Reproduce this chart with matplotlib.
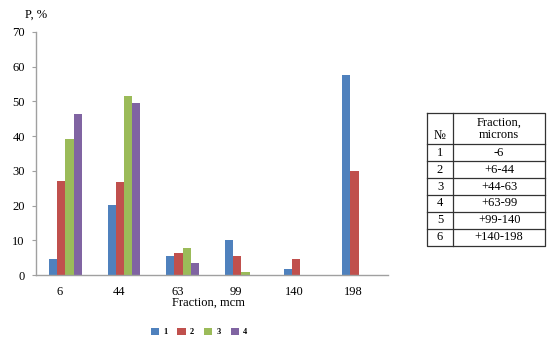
import matplotlib
matplotlib.use("Agg")
import matplotlib.pyplot as plt
import numpy as np

categories = ["6", "44", "63", "99", "140", "198"]
series_names = ["1", "2", "3", "4"]
s1 = [4.6, 20.2, 5.5, 10.1, 1.6, 57.5]
s2 = [27.0, 26.7, 6.2, 5.4, 4.6, 29.9]
s3 = [39.3, 51.7, 7.9, 1.0, 0.0, 0.0]
s4 = [46.5, 49.5, 3.5, 0.0, 0.0, 0.0]
series = [s1, s2, s3, s4]
colors = ["#4F81BD", "#C0504D", "#9BBB59", "#8064A2"]

table_header = ["№", "Fraction,\nmicrons"]
table_nums = ["1", "2", "3", "4", "5", "6"]
table_fracs = ["-6", "+6-44", "+44-63", "+63-99", "+99-140", "+140-198"]

serif = ["Liberation Serif", "DejaVu Serif"]
plt.rcParams["font.family"] = serif

W, H = 550, 345
fig = plt.figure(figsize=(5.5, 3.45), dpi=100)
ax = fig.add_axes([36 / W, 1 - 275 / H, (388 - 36) / W, (275 - 32) / H])

x = np.arange(len(categories))
bw = 0.14
n = len(series)
for i, (vals, c, name) in enumerate(zip(series, colors, series_names)):
    ax.bar(x + (i - (n - 1) / 2) * bw, vals, width=bw, color=c, label=name, linewidth=0)

ax.set_xlim(-0.5, len(categories) - 0.5)
ax.set_ylim(0, 70)
ax.set_yticks(np.arange(0, 71, 10))
ax.set_xticks(x - 0.09)
ax.set_xticklabels(categories)
for s in ["top", "right"]:
    ax.spines[s].set_visible(False)
for s in ["left", "bottom"]:
    ax.spines[s].set_color("#A0A0A0")
    ax.spines[s].set_linewidth(1.0)
ax.tick_params(axis="y", length=3, width=0.8, color="#A0A0A0", pad=5, labelsize=9)
ax.tick_params(axis="x", length=0, pad=8, labelsize=9)

fig.text(25 / W, 1 - 15 / H, "P, %", fontsize=9, ha="left", va="center")
fig.text(208 / W, 1 - 303 / H, "Fraction, mcm", fontsize=9, ha="center", va="center")

leg = fig.legend(loc="center", bbox_to_anchor=(199 / W, 1 - 332 / H), ncol=4, frameon=False,
                 handlelength=1.0, handleheight=1.0, columnspacing=1.2, handletextpad=0.5,
                 prop={"size": 6, "weight": "bold", "family": serif})

# table
tl, tr, tt, tb = 426.7, 545.0, 113.3, 245.7
tax = fig.add_axes([tl / W, 1 - tb / H, (tr - tl) / W, (tb - tt) / H])
tax.set_xlim(0, tr - tl)
tax.set_ylim(tb - tt, 0)
tax.axis("off")
colx = 453.3 - tl
header_h = 31.0
row_h = (tb - tt - header_h) / len(table_nums)
lc = "#333333"
lw = 0.9
tax.plot([0, tr - tl, tr - tl, 0, 0], [0, 0, tb - tt, tb - tt, 0], color=lc, lw=lw, clip_on=False)
tax.plot([colx, colx], [0, tb - tt], color=lc, lw=lw, clip_on=False)
for r in range(len(table_nums)):
    yy = header_h + r * row_h
    tax.plot([0, tr - tl], [yy, yy], color=lc, lw=lw, clip_on=False)
tax.text(colx / 2, header_h - 8, table_header[0], ha="center", va="center", fontsize=9)
tax.text((colx + tr - tl) / 2, header_h / 2, table_header[1], ha="center", va="center",
         fontsize=9, linespacing=1.0)
for r, (a, b) in enumerate(zip(table_nums, table_fracs)):
    yc = header_h + (r + 0.5) * row_h
    tax.text(colx / 2, yc, a, ha="center", va="center", fontsize=9)
    tax.text((colx + tr - tl) / 2, yc, b, ha="center", va="center", fontsize=9)

fig.savefig("out.png", dpi=100)
